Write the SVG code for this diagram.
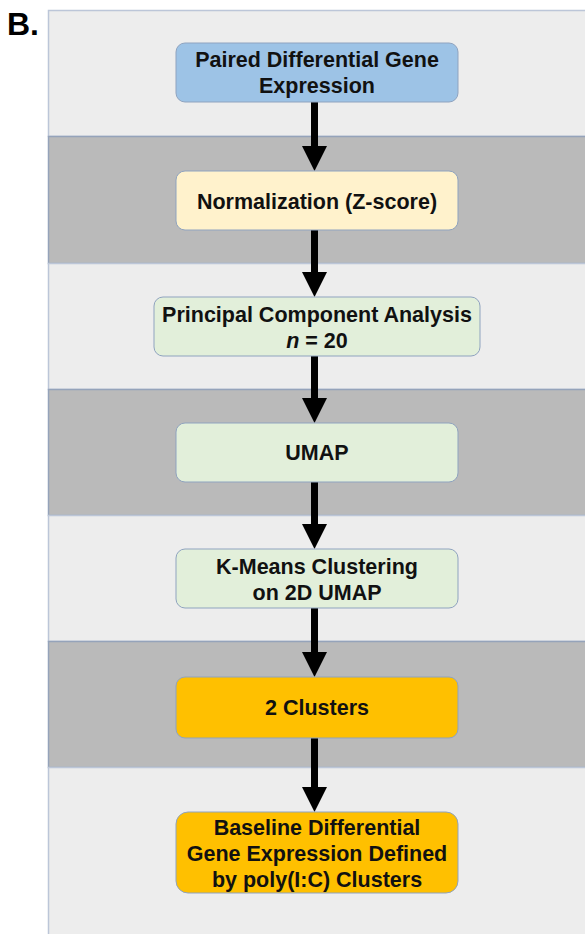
<svg xmlns="http://www.w3.org/2000/svg" width="585" height="934" viewBox="0 0 585 934">
<style>
.lt{fill:#EDEDED;stroke:#BCC6D8;stroke-width:1.5}
.dk{fill:#BABABA;stroke:#95A3BA;stroke-width:1.5}
.n{stroke:#8FA3BF;stroke-width:1}
.t{font-family:"Liberation Sans",Arial,sans-serif;font-weight:bold;font-size:21.5px;fill:#111;text-anchor:middle}
.c{stroke:#000;stroke-width:7;fill:none}
</style>
<rect width="585" height="934" fill="#fff"/>
<text x="7" y="35" style="font-family:'Liberation Sans',Arial,sans-serif;font-weight:bold;font-size:32px;fill:#000">B.</text>
<g id="bands">
<rect class="lt" x="48.5" y="10.5" width="540" height="126"/>
<rect class="dk" x="48.5" y="136.5" width="540" height="127"/>
<rect class="lt" x="48.5" y="263.5" width="540" height="126"/>
<rect class="dk" x="48.5" y="389.5" width="540" height="126"/>
<rect class="lt" x="48.5" y="515.5" width="540" height="126"/>
<rect class="dk" x="48.5" y="641.5" width="540" height="126"/>
<rect class="lt" x="48.5" y="767.5" width="540" height="170"/>
</g>
<g id="connectors">
<path class="c" d="M314.5 102V148"/><polygon points="302,146 327,146 314.5,171"/>
<path class="c" d="M314.5 230V274"/><polygon points="302,272 327,272 314.5,297"/>
<path class="c" d="M314.5 356V400"/><polygon points="302,398 327,398 314.5,423"/>
<path class="c" d="M314.5 482V526"/><polygon points="302,524 327,524 314.5,549"/>
<path class="c" d="M314.5 608V654"/><polygon points="302,652 327,652 314.5,677"/>
<path class="c" d="M314.5 738V789"/><polygon points="302,787 327,787 314.5,812"/>
</g>
<g id="n1"><rect class="n" x="176" y="43" width="282" height="59" rx="9" fill="#9DC3E6"/>
<text class="t" x="317" y="67">Paired Differential Gene</text><text class="t" x="317" y="93">Expression</text></g>
<g id="n2"><rect class="n" x="176" y="171" width="282" height="59" rx="9" fill="#FFF2CC"/>
<text class="t" x="317" y="209">Normalization (Z-score)</text></g>
<g id="n3"><rect class="n" x="154" y="297" width="326" height="59" rx="9" fill="#E2EFDA"/>
<text class="t" x="317" y="322">Principal Component Analysis</text><text class="t" x="317" y="348"><tspan font-style="italic">n</tspan> = 20</text></g>
<g id="n4"><rect class="n" x="176" y="423" width="282" height="59" rx="9" fill="#E2EFDA"/>
<text class="t" x="317" y="460">UMAP</text></g>
<g id="n5"><rect class="n" x="176" y="549" width="282" height="59" rx="9" fill="#E2EFDA"/>
<text class="t" x="317" y="574">K-Means Clustering</text><text class="t" x="317" y="600">on 2D UMAP</text></g>
<g id="n6"><rect class="n" x="176" y="677" width="282" height="61" rx="9" fill="#FFC000"/>
<text class="t" x="317" y="715">2 Clusters</text></g>
<g id="n7"><rect class="n" x="176" y="812" width="282" height="81" rx="12" fill="#FFC000"/>
<text class="t" x="317" y="835">Baseline Differential</text><text class="t" x="317" y="861">Gene Expression Defined</text><text class="t" x="317" y="887">by poly(I:C) Clusters</text></g>
</svg>
